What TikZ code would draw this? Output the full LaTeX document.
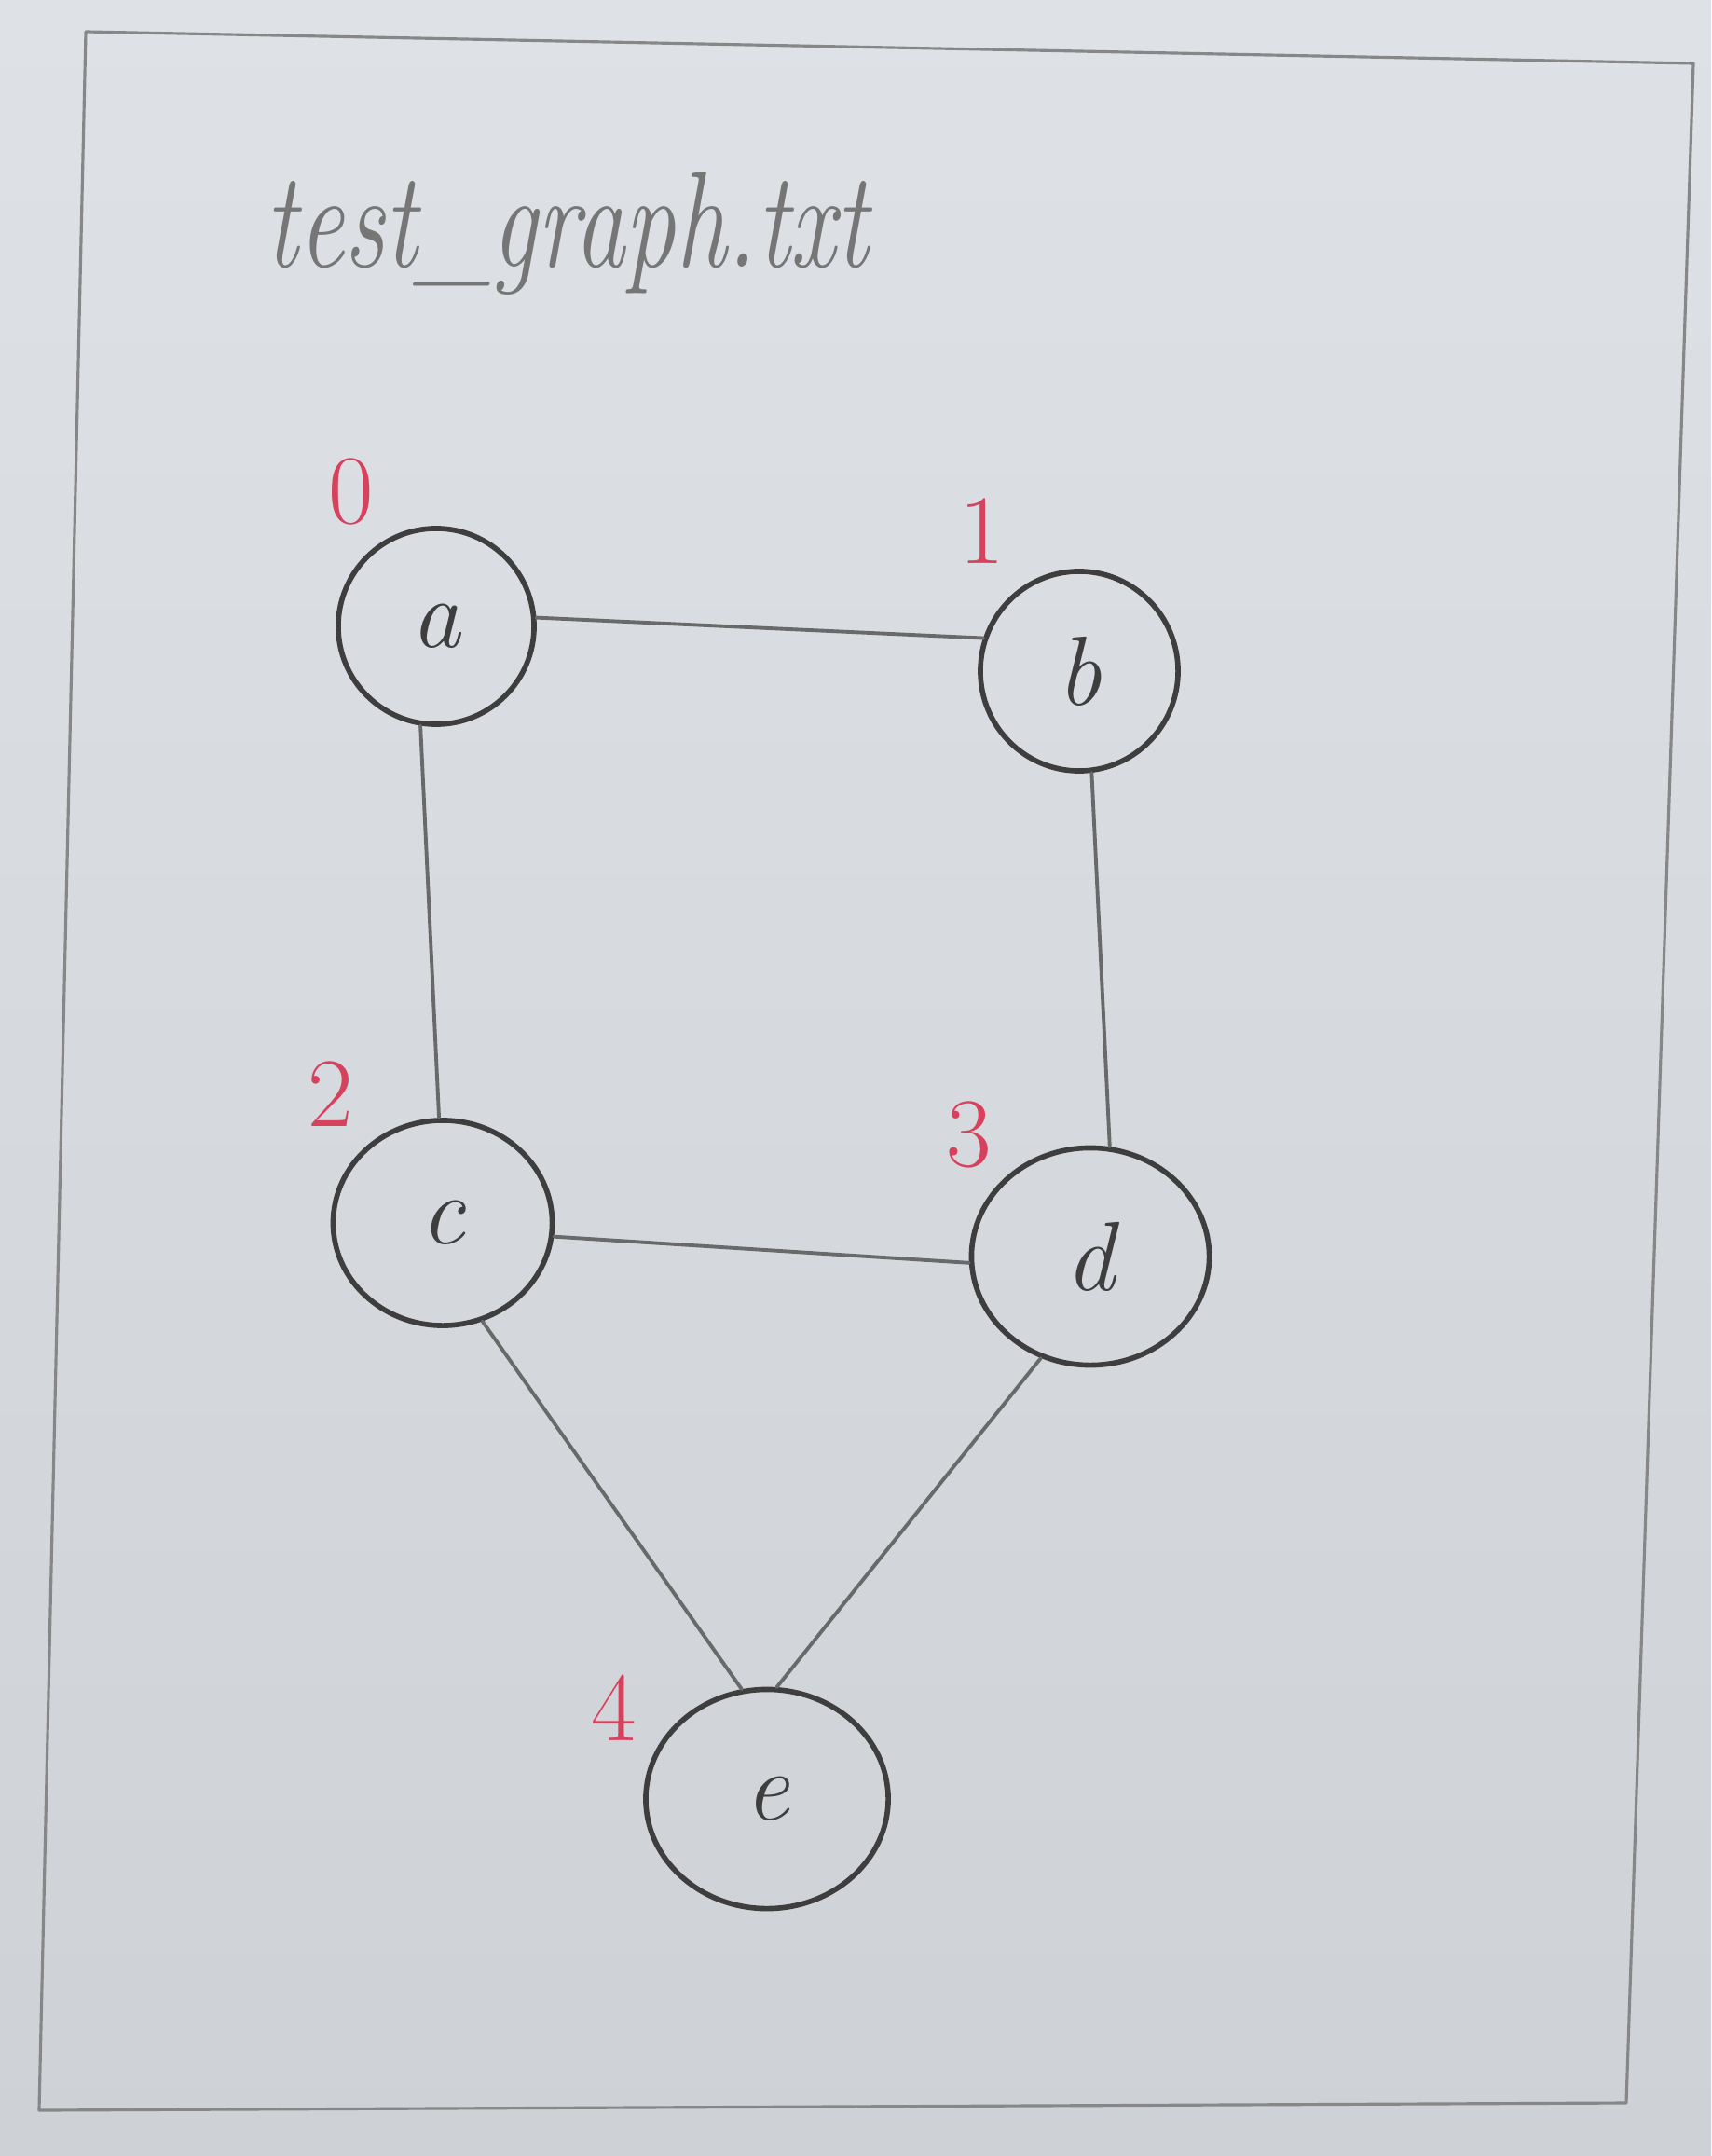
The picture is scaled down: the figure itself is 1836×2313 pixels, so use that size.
\documentclass[tikz,border=0pt]{standalone}
\usetikzlibrary{shapes.geometric}
\definecolor{paperTop}{RGB}{222,225,230}
\definecolor{paperBot}{RGB}{206,209,214}
\definecolor{pencilDark}{RGB}{62,62,62}
\definecolor{pencilMid}{RGB}{105,105,105}
\definecolor{pencilLight}{RGB}{135,135,135}
\definecolor{titleGray}{RGB}{118,118,118}
\definecolor{markRed}{RGB}{214,66,94}
\tikzset{
  vertex/.style={ellipse, draw=pencilDark, line width=1.6pt, inner sep=0pt,
    text=pencilDark, font=\fontsize{30}{30}\selectfont\itshape},
  edge/.style={draw=pencilMid, line width=1.1pt, line cap=round},
  frameline/.style={draw=pencilLight, line width=0.9pt, line join=round},
  index/.style={text=markRed, font=\fontsize{30}{30}\selectfont, inner sep=0pt}
}
\begin{document}
\begin{tikzpicture}[x=0.01cm, y=-0.01cm]
  \useasboundingbox (0,0) rectangle (1836,2313);
  % sheet of paper
  \shade[top color=paperTop, bottom color=paperBot] (0,0) rectangle (1836,2313);

  % hand-drawn border
  \coordinate (tl) at (92,34);
  \coordinate (tr) at (1817,68);
  \coordinate (br) at (1745,2256);
  \coordinate (bl) at (42,2264);
  \draw[frameline] (tl) -- (tr) -- (br) -- (bl) -- cycle;

  % file name
  \node[anchor=base west, text=titleGray, inner sep=0pt,
        font=\fontsize{31}{31}\selectfont\itshape] (title) at (284,287)
        {\scalebox{1}[1.35]{test\_graph.txt}};

  % vertices
  \node[vertex, minimum width=2.10cm, minimum height=2.10cm] (a) at (468,672) {a};
  \node[vertex, minimum width=2.12cm, minimum height=2.14cm] (b) at (1158,720) {b};
  \node[vertex, minimum width=2.35cm, minimum height=2.20cm] (c) at (475,1312) {c};
  \node[vertex, minimum width=2.55cm, minimum height=2.33cm] (d) at (1170,1348) {d};
  \node[vertex, minimum width=2.60cm, minimum height=2.35cm] (e) at (823,1930) {e};

  % vertex indices
  \node[index] (i0) at (377,527) {0};
  \node[index] (i1) at (1054,570) {1};
  \node[index] (i2) at (355,1174) {2};
  \node[index] (i3) at (1040,1217) {3};
  \node[index] (i4) at (659,1832) {4};

  % edges
  \draw[edge] (a.5)    -- (b.161);
  \draw[edge] (a.-99)  -- (c.92);
  \draw[edge] (b.-83)  -- (d.80);
  \draw[edge] (c.-7)   -- (d.183);
  \draw[edge] (c.-68)  -- (e.103);
  \draw[edge] (d.-116) -- (e.85);
\end{tikzpicture}
\end{document}
